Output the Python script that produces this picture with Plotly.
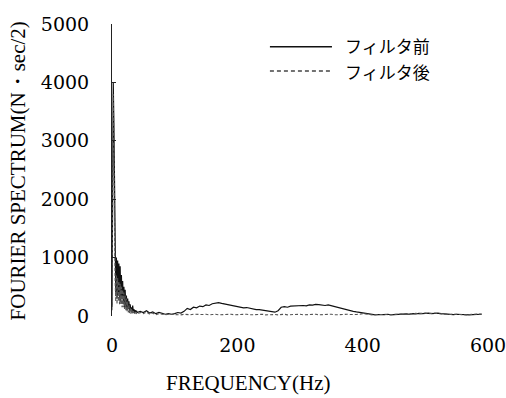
import plotly.graph_objects as go

freq = [0, 1, 2, 3, 4, 5, 6, 7, 8, 9, 10, 11, 12, 13, 14, 15, 16, 17, 18, 19, 20,
        21, 22, 23, 24, 25, 26, 27, 28, 29, 30, 31, 32, 33, 34, 35, 36, 37, 38, 39, 40,
        45, 50, 55, 60, 65, 70, 75, 80, 85, 90, 95, 100, 105, 110, 115, 120, 125, 130,
        135, 140, 145, 150, 155, 160, 165, 170, 175, 180, 185, 190, 195, 200, 205, 210,
        215, 220, 225, 230, 235, 240, 245, 250, 255, 260, 265, 270, 275, 280, 285, 290,
        295, 300, 305, 310, 315, 320, 325, 330, 335, 340, 345, 350, 355, 360, 365, 370,
        375, 380, 385, 390, 395, 400, 405, 410, 415, 420, 425, 430, 435, 440, 445, 450,
        455, 460, 465, 470, 475, 480, 485, 490, 495, 500, 505, 510, 515, 520, 525, 530,
        535, 540, 545, 550, 555, 560, 565, 570, 575, 580, 585, 590, 595, 600]

before = [150, 2200, 4000, 3300, 1800, 900, 400, 1000, 300, 950, 350, 900, 300, 850, 250,
          700, 300, 600, 200, 500, 150, 450, 150, 350, 100, 300, 120, 250, 80, 200, 100,
          150, 60, 180, 80, 120, 50, 100, 70, 90, 60,
          80, 60, 90, 50, 70, 40, 60, 50, 30, 40, 30, 40, 60, 50, 80, 130, 110, 150,
          140, 170, 160, 190, 180, 210, 220, 230, 215, 205, 195, 185, 170, 160, 150, 140,
          145, 130, 120, 110, 110, 100, 90, 90, 80, 65, 90, 150, 160, 150, 170, 175,
          170, 185, 180, 175, 190, 185, 200, 195, 185, 180, 190, 175, 165, 150, 130, 115,
          100, 90, 80, 70, 60, 55, 40, 30, 25, 20, 25, 20, 25, 30, 20, 25,
          30, 25, 30, 35, 30, 40, 35, 45, 40, 45, 50, 40, 45, 50, 40, 35,
          40, 30, 25, 30, 25, 20, 25, 20, 25, 30, 25, 30]

after = [100, 1500, 3800, 3000, 1200, 600, 250, 700, 200, 650, 250, 600, 200, 550, 200,
         500, 150, 450, 150, 400, 120, 350, 100, 300, 80, 250, 60, 200, 50, 150, 40,
         120, 40, 100, 50, 80, 40, 70, 30, 60, 30,
         60, 40, 70, 30, 50, 20, 40, 30, 20, 30, 25, 20, 25, 20, 30, 25, 20, 30,
         25, 20, 25, 30, 20, 25, 30, 20, 25, 20, 25, 30, 20, 25, 20, 25,
         30, 20, 25, 20, 25, 30, 20, 25, 20, 25, 20, 25, 30, 20, 25, 20,
         25, 30, 20, 25, 20, 25, 30, 20, 25, 20, 25, 30, 20, 25, 20, 25,
         30, 25, 20, 25, 30, 40, 35, 25, 20, 25, 20, 25, 30, 20, 25, 30,
         25, 30, 35, 30, 40, 35, 45, 40, 45, 50, 40, 45, 50, 40, 35, 40,
         30, 25, 30, 25, 20, 25, 20, 25, 30, 25, 30, 35]

legend_names = ["フィルタ前", "フィルタ後"]
x_ticks = [0, 200, 400, 600]
y_ticks = [0, 1000, 2000, 3000, 4000, 5000]

serif = "DejaVu Serif"
title_font = "Liberation Serif"
jp = "Noto Sans CJK JP"

fig = go.Figure()
fig.add_trace(go.Scatter(x=freq, y=before, mode="lines", name=legend_names[0],
                         line=dict(color="#111111", width=1.2)))
fig.add_trace(go.Scatter(x=freq, y=after, mode="lines", name=legend_names[1],
                         line=dict(color="#555555", width=1.1, dash="3px,2px")))

fig.update_layout(
    width=506, height=398,
    margin=dict(l=112, r=18, t=24, b=82),
    paper_bgcolor="white", plot_bgcolor="white",
    showlegend=False,
    xaxis=dict(range=[0, 600], tickvals=x_ticks, ticktext=[str(v) for v in x_ticks],
               showgrid=False, zeroline=False, showline=False, ticks="",
               ticklabelstandoff=16, automargin=False, ticklabeloverflow="allow",
               tickfont=dict(family=serif, size=19, color="black")),
    yaxis=dict(range=[0, 5000], tickvals=y_ticks, ticktext=[str(v) for v in y_ticks],
               showgrid=False, zeroline=False, showline=True, linecolor="#222222",
               linewidth=1, ticks="inside", ticklen=4, tickcolor="#222222",
               ticklabelstandoff=18, automargin=False, ticklabeloverflow="allow",
               tickfont=dict(family=serif, size=19, color="black")),
    annotations=[
        dict(text="FREQUENCY(Hz)", xref="paper", yref="paper", x=0.362, y=-0.228,
             xanchor="center", yanchor="middle", showarrow=False,
             font=dict(family=title_font, size=21, color="black")),
        dict(text="FOURIER SPECTRUM(N・sec/2)", xref="paper", yref="paper",
             x=-0.25, y=0.495, xanchor="center", yanchor="middle", showarrow=False,
             textangle=-90, font=dict(family=title_font, size=21, color="black")),
        dict(text=legend_names[0], xref="paper", yref="paper",
             x=0.614, y=0.925, xanchor="left", yanchor="middle", align="left",
             showarrow=False, font=dict(family=jp, size=17, color="black")),
        dict(text=legend_names[1], xref="paper", yref="paper",
             x=0.614, y=0.839, xanchor="left", yanchor="middle", align="left",
             showarrow=False, font=dict(family=jp, size=17, color="black")),
    ],
    shapes=[
        dict(type="line", xref="paper", yref="paper", x0=0.42, x1=0.585, y0=0.922, y1=0.922,
             line=dict(color="#111111", width=1.5)),
        dict(type="line", xref="paper", yref="paper", x0=0.42, x1=0.585, y0=0.839, y1=0.839,
             line=dict(color="#444444", width=1.5, dash="4px,3px")),
    ],
)

fig.write_html("out.html")
